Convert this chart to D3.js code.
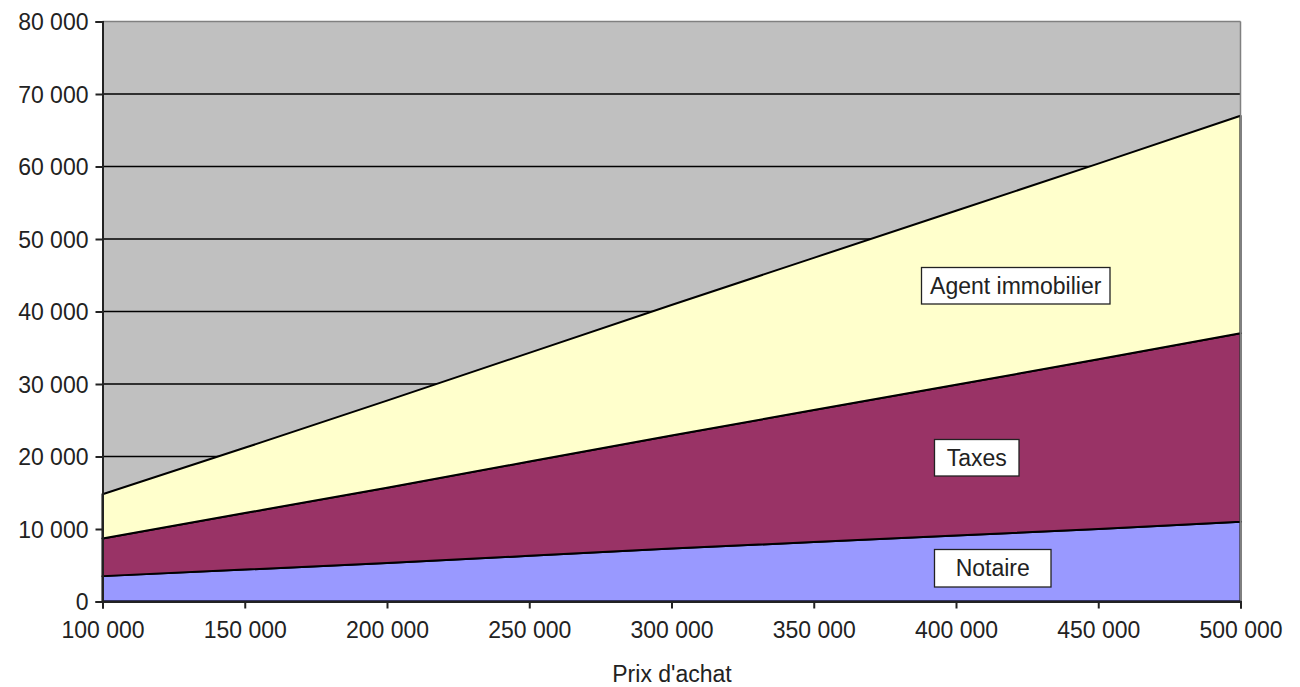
<!DOCTYPE html>
<html><head><meta charset="utf-8">
<script src="https://cdn.jsdelivr.net/npm/d3@7"></script>
<style>body{margin:0;background:#fff;} svg{display:block;} text{font-family:"Liberation Sans",Arial,sans-serif;}</style>
</head><body><svg id="c" width="1300" height="687"></svg>
<script>
const prices = [100000,150000,200000,250000,300000,350000,400000,450000,500000];
const notaire = [3500,4400,5300,6300,7300,8200,9100,10000,11000];
const taxes = [5200,7800,10400,13000,15600,18200,20800,23400,26000];
const agent = [6100,9000,12000,15000,18000,21000,24000,27000,30000];
const seriesNames = ["Notaire","Taxes","Agent immobilier"];
const yTicks = [0,10000,20000,30000,40000,50000,60000,70000,80000];
const xTicks = [100000,150000,200000,250000,300000,350000,400000,450000,500000];
const xTitle = "Prix d'achat";

const svg = d3.select("#c");
const L=102.5, R=1240.5, T=21.5, B=601.5;
const FS = 23;
const x = d3.scaleLinear().domain([100000,500000]).range([L,R]);
const y = d3.scaleLinear().domain([0,80000]).range([B,T]);
const fmt = v => d3.format(",")(v).replace(/,/g," ");

const rows = prices.map((p,i)=>({p, "Notaire":notaire[i], "Taxes":taxes[i], "Agent immobilier":agent[i]}));
const stack = d3.stack().keys(seriesNames)(rows);
const colors = {"Notaire":"#9999FF","Taxes":"#993366","Agent immobilier":"#FFFFCC"};

svg.append("rect").attr("x",L).attr("y",T).attr("width",R-L).attr("height",B-T).attr("fill","#C0C0C0");
svg.append("g").selectAll("line").data(yTicks.filter(v=>v>0 && v<80000)).join("line")
  .attr("x1",L).attr("x2",R).attr("y1",d=>y(d)).attr("y2",d=>y(d)).attr("stroke","#000").attr("stroke-width",1.3);

const area = d3.area().x(d=>x(d.data.p)).y0(d=>y(d[0])).y1(d=>y(d[1]));
svg.append("g").selectAll("path").data(stack).join("path")
  .attr("d",area).attr("fill",d=>colors[d.key]).attr("stroke","#000").attr("stroke-width",2).attr("stroke-linejoin","round");

svg.append("line").attr("x1",L).attr("x2",R).attr("y1",T).attr("y2",T).attr("stroke","#808080").attr("stroke-width",1.5);
svg.append("line").attr("x1",R).attr("x2",R).attr("y1",T).attr("y2",B).attr("stroke","#808080").attr("stroke-width",1.5);
svg.append("line").attr("x1",L).attr("x2",R).attr("y1",B).attr("y2",B).attr("stroke","#1a1a4a").attr("stroke-width",2);

const yAxis = svg.append("g").attr("transform",`translate(${L},0)`)
  .call(d3.axisLeft(y).tickValues(yTicks).tickFormat(fmt).tickSize(7).tickPadding(7));
const xAxis = svg.append("g").attr("transform",`translate(0,${B})`)
  .call(d3.axisBottom(x).tickValues(xTicks).tickFormat(fmt).tickSize(7).tickPadding(13));
[yAxis,xAxis].forEach(a=>{
  a.select(".domain").attr("stroke","#222").attr("stroke-width",2);
  a.selectAll(".tick line").attr("stroke","#222").attr("stroke-width",2);
  a.selectAll(".tick text").attr("font-size",FS).attr("fill","#222").attr("font-family","'Liberation Sans',Arial,sans-serif");
});
yAxis.selectAll(".tick text").attr("dy","0.36em");

svg.append("text").attr("x",672).attr("y",682).attr("text-anchor","middle").attr("font-size",FS).attr("fill","#222").text(xTitle);

const labelBoxes = [
  {name:"Notaire", x0:934.5, x1:1051, y0:549.5, y1:587},
  {name:"Taxes", x0:934.5, x1:1019, y0:439.5, y1:476},
  {name:"Agent immobilier", x0:921.5, x1:1110, y0:267.5, y1:304}
];
const lg = svg.append("g");
labelBoxes.forEach(l=>{
  lg.append("rect").attr("x",l.x0).attr("y",l.y0).attr("width",l.x1-l.x0).attr("height",l.y1-l.y0)
    .attr("fill","#fff").attr("stroke","#222").attr("stroke-width",1.3);
  lg.append("text").attr("x",(l.x0+l.x1)/2).attr("y",(l.y0+l.y1)/2).attr("text-anchor","middle").attr("dominant-baseline","central")
    .attr("font-size",FS).attr("fill","#222").text(l.name);
});
</script></body></html>
